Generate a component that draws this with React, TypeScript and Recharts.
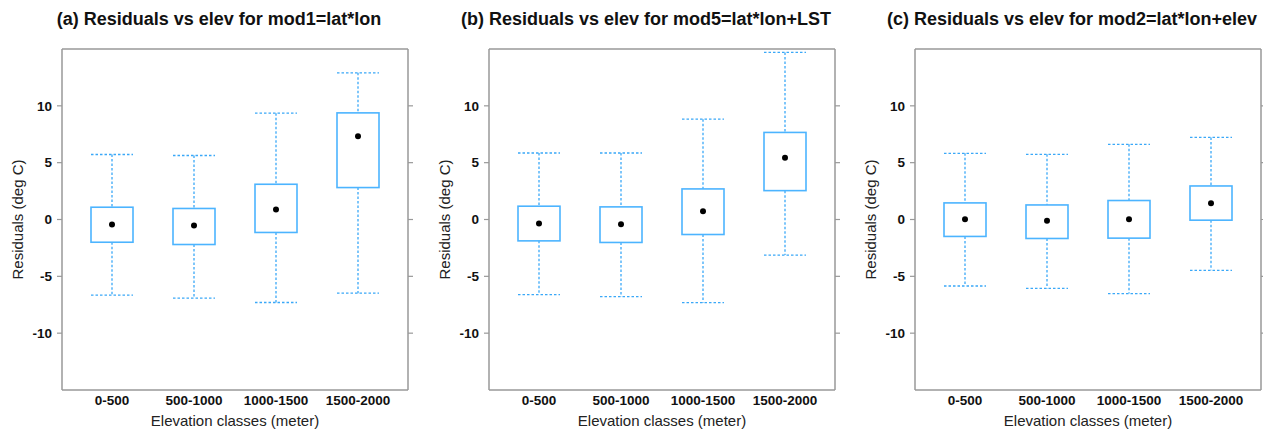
import React from "react";
import {
  ComposedChart,
  Bar,
  Line,
  XAxis,
  YAxis,
  ReferenceLine,
  Label,
} from "recharts";

// Elevation classes on the x axis and fixed y ticks
const elevClasses = ["0-500", "500-1000", "1000-1500", "1500-2000"];
const yTicks = [-10, -5, 0, 5, 10];
const yDomain: [number, number] = [-15, 15];

// mod1 = lat*lon residual summaries per elevation class
const mod1Min = [-6.66, -6.92, -7.3, -6.48];
const mod1Q1 = [-2.0, -2.2, -1.14, 2.81];
const mod1Mean = [-0.44, -0.53, 0.88, 7.33];
const mod1Q3 = [1.08, 0.97, 3.1, 9.38];
const mod1Max = [5.72, 5.63, 9.35, 12.9];

// mod5 = lat*lon+LST
const mod5Min = [-6.61, -6.79, -7.32, -3.13];
const mod5Q1 = [-1.88, -2.02, -1.32, 2.54];
const mod5Mean = [-0.35, -0.41, 0.73, 5.44];
const mod5Q3 = [1.17, 1.11, 2.69, 7.66];
const mod5Max = [5.85, 5.85, 8.83, 14.7];

// mod2 = lat*lon+elev
const mod2Min = [-5.85, -6.06, -6.52, -4.47];
const mod2Q1 = [-1.49, -1.67, -1.64, -0.06];
const mod2Mean = [0.03, -0.12, 0.03, 1.43];
const mod2Q3 = [1.46, 1.28, 1.67, 2.95];
const mod2Max = [5.82, 5.73, 6.61, 7.22];

const FONT = '"Liberation Sans", Arial, Helvetica, sans-serif';
const FRAME = "#999999";
const BOX = "#4cb4ff";
const WHISK = "#3aa8f8";

const buildRows = (
  min: number[],
  q1: number[],
  mean: number[],
  q3: number[],
  max: number[]
) =>
  elevClasses.map((cls, i) => ({
    cls,
    min: min[i],
    q1: q1[i],
    mean: mean[i],
    q3: q3[i],
    max: max[i],
    range: [min[i], max[i]],
  }));

// Box-and-whisker drawn inside the [min, max] range bar
const BoxWhisker = (props: any) => {
  const { x, y, width, height, payload } = props;
  if (x == null || y == null) return null;
  const top = Math.min(y, y + height);
  const h = Math.abs(height);
  const { min, q1, q3, max } = payload;
  const toY = (v: number) => top + ((max - v) / (max - min)) * h;
  const cx = x + width / 2;
  const dash = "2.5 2";
  return (
    <g>
      <line x1={cx} x2={cx} y1={toY(max)} y2={toY(q3)} stroke={WHISK} strokeWidth={1.3} strokeDasharray={dash} />
      <line x1={cx} x2={cx} y1={toY(q1)} y2={toY(min)} stroke={WHISK} strokeWidth={1.3} strokeDasharray={dash} />
      <line x1={x} x2={x + width} y1={toY(max)} y2={toY(max)} stroke={WHISK} strokeWidth={1.3} strokeDasharray={dash} />
      <line x1={x} x2={x + width} y1={toY(min)} y2={toY(min)} stroke={WHISK} strokeWidth={1.3} strokeDasharray={dash} />
      <rect x={x} y={toY(q3)} width={width} height={toY(q1) - toY(q3)} fill="#ffffff" stroke={BOX} strokeWidth={1.6} />
    </g>
  );
};

const PLOT_W = 346;
const Y_AXIS_W = 62;
const CHART_W = Y_AXIS_W + PLOT_W + 12;
const CHART_H = 431;

type PanelProps = {
  title: string;
  plotLeft: number;
  rows: ReturnType<typeof buildRows>;
};

const Panel = ({ title, plotLeft, rows }: PanelProps) => {
  const left = plotLeft - Y_AXIS_W;
  return (
    <div style={{ position: "absolute", left, top: 0, width: CHART_W, height: CHART_H }}>
      <div
        style={{
          position: "absolute",
          left: Y_AXIS_W + 157 - 250,
          width: 500,
          top: 9,
          textAlign: "center",
          fontFamily: FONT,
          fontWeight: "bold",
          fontSize: 18,
          color: "#111",
          whiteSpace: "nowrap",
        }}
      >
        {title}
      </div>
      <ComposedChart
        width={CHART_W}
        height={CHART_H}
        data={rows}
        margin={{ top: 49, right: 0, bottom: 0, left: 0 }}
        barSize={42}
        style={{ position: "absolute", left: 0, top: 0 }}
      >
        <XAxis
          dataKey="cls"
          type="category"
          height={41}
          padding={{ left: 9, right: 9 }}
          tickLine={false}
          tickSize={3}
          tickMargin={2}
          axisLine={{ stroke: FRAME, strokeWidth: 1.5 }}
          tick={{ fill: "#111", fontFamily: FONT, fontWeight: "bold", fontSize: 13.5 }}
          interval={0}
        >
          <Label
            content={(p: any) => {
              const vb = p.viewBox || {};
              return (
                <text
                  x={vb.x + vb.width / 2}
                  y={vb.y + 36}
                  textAnchor="middle"
                  fontFamily={FONT}
                  fontSize={15}
                  fill="#222"
                >
                  Elevation classes (meter)
                </text>
              );
            }}
          />
        </XAxis>
        <YAxis
          yAxisId="left"
          type="number"
          domain={yDomain}
          ticks={yTicks}
          allowDataOverflow
          width={Y_AXIS_W}
          tickSize={5}
          tickMargin={5}
          tickLine={{ stroke: FRAME, strokeWidth: 1.2 }}
          axisLine={{ stroke: FRAME, strokeWidth: 1.5 }}
          tick={{ fill: "#111", fontFamily: FONT, fontWeight: "bold", fontSize: 13.5 }}
        >
          <Label
            content={(p: any) => {
              const vb = p.viewBox || {};
              const cx = Y_AXIS_W - 39;
              const cy = vb.y + vb.height / 2;
              return (
                <text
                  x={cx}
                  y={cy}
                  transform={`rotate(-90 ${cx} ${cy})`}
                  textAnchor="middle"
                  fontFamily={FONT}
                  fontSize={15}
                  fill="#222"
                >
                  Residuals (deg C)
                </text>
              );
            }}
          />
        </YAxis>
        <YAxis
          yAxisId="right"
          orientation="right"
          type="number"
          domain={yDomain}
          ticks={yTicks}
          allowDataOverflow
          width={12}
          tickSize={5}
          tickLine={{ stroke: FRAME, strokeWidth: 1.2 }}
          axisLine={{ stroke: FRAME, strokeWidth: 1.5 }}
          tickFormatter={() => ""}
        />
        <ReferenceLine yAxisId="left" y={15} stroke={FRAME} strokeWidth={1.5} />
        <Bar
          yAxisId="left"
          dataKey="range"
          shape={BoxWhisker}
          isAnimationActive={false}
        />
        <Line
          yAxisId="left"
          dataKey="mean"
          stroke="none"
          dot={{ r: 3, fill: "#000", stroke: "none" }}
          activeDot={false}
          isAnimationActive={false}
        />
      </ComposedChart>
    </div>
  );
};

export default function App() {
  return (
    <div
      style={{
        position: "absolute",
        left: 0,
        top: 0,
        width: 1263,
        height: 431,
        background: "#fff",
        overflow: "hidden",
      }}
    >
      <Panel
        title="(a) Residuals vs elev for mod1=lat*lon"
        plotLeft={62}
        rows={buildRows(mod1Min, mod1Q1, mod1Mean, mod1Q3, mod1Max)}
      />
      <Panel
        title="(b) Residuals vs elev for mod5=lat*lon+LST"
        plotLeft={489}
        rows={buildRows(mod5Min, mod5Q1, mod5Mean, mod5Q3, mod5Max)}
      />
      <Panel
        title="(c) Residuals vs elev for mod2=lat*lon+elev"
        plotLeft={915}
        rows={buildRows(mod2Min, mod2Q1, mod2Mean, mod2Q3, mod2Max)}
      />
    </div>
  );
}
